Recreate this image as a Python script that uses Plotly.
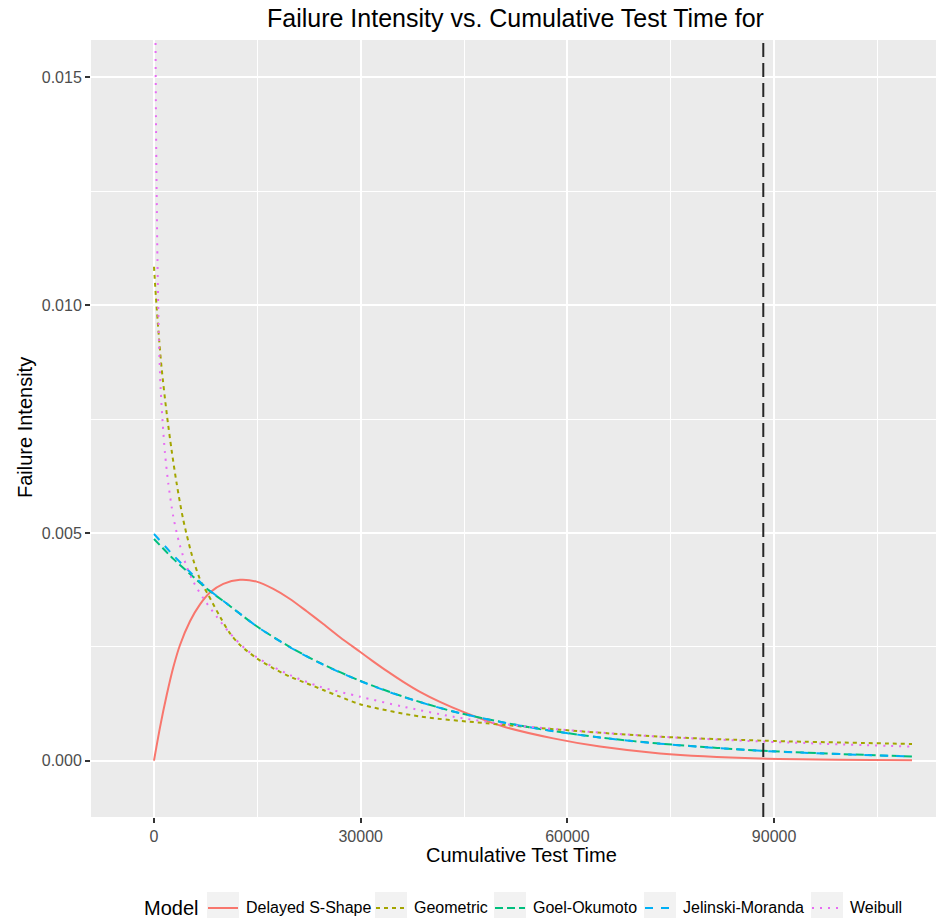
import plotly.graph_objects as go

# ---------------- data ----------------
model_names = ["Delayed S-Shape", "Geometric", "Goel-Okumoto", "Jelinski-Moranda", "Weibull"]

t_delayed = [0, 871, 1843, 2801, 3774, 5225, 6677, 8128, 10058, 12482, 14906, 17315,
             19739, 22162, 24572, 26996, 29899, 31800, 33774, 36184, 38607, 41500, 44891,
             50697, 57954, 64732, 73441, 87955, 110016]
fi_delayed = [0.0, 0.00073, 0.00144, 0.00205, 0.00254, 0.00306, 0.00343, 0.00369,
              0.00388, 0.00397, 0.00393, 0.00377, 0.00355, 0.00328, 0.00300,
              0.00271, 0.00239, 0.00218, 0.00197, 0.00173, 0.00151, 0.00129, 0.00107,
              0.00075, 0.00049, 0.00031, 0.00016, 0.00005, 0.000012]

t_geometric = [0, 290, 726, 1118, 1843, 2569, 3294, 4253, 5704, 6923, 7887, 9579, 11031,
               12482, 14906, 17315, 19739, 22162, 24572, 26996, 29899, 38607, 48288,
               58927, 73441, 88432, 110016]
fi_geometric = [0.010843, 0.010150, 0.009280, 0.008600, 0.007625, 0.006800, 0.006080,
                0.005283, 0.004405, 0.003894, 0.003637, 0.003161, 0.002796, 0.002540,
                0.002248, 0.002028, 0.001844, 0.001698, 0.001551, 0.001405, 0.001240,
                0.000970, 0.000821, 0.000680, 0.000527, 0.000439, 0.000367]

t_goel = [0, 2801, 5225, 7887, 10551, 14906, 19739, 24093, 29899, 36184, 43440, 50697,
          57954, 64732, 73441, 88432, 110016]
fi_goel = [0.004866, 0.004430, 0.004100, 0.003750, 0.003450, 0.002950, 0.002495, 0.002145,
           0.001755, 0.001405, 0.001080, 0.000840, 0.000650, 0.000510, 0.000375, 0.000217,
           0.000092]

t_jelinski = [0, 2801, 5225, 7887, 10551, 14906, 19739, 24093, 29899, 36184, 43440, 50697,
              57954, 64732, 73441, 88432, 110016]
fi_jelinski = [0.004976, 0.004510, 0.004140, 0.003760, 0.003450, 0.002950, 0.002490,
               0.002140, 0.001750, 0.001400, 0.001078, 0.000838, 0.000648, 0.000508,
               0.000372, 0.000215, 0.000090]

t_weibull = [100, 200, 300, 500, 726, 972, 1263, 1597, 2076, 2801, 3672, 4746, 5704, 7155,
             9100, 11031, 13454, 16357, 19739, 24093, 29899, 36184, 43440, 50697, 58927,
             73441, 88432, 110016]
fi_weibull = [0.0226, 0.0166, 0.0138, 0.0110, 0.0092, 0.00814, 0.007406, 0.006747,
              0.006089, 0.005356, 0.004772, 0.004258, 0.003929, 0.003565, 0.003161,
              0.002796, 0.002430, 0.002138, 0.001881, 0.001624, 0.001405, 0.001185,
              0.000966, 0.000805, 0.000685, 0.000527, 0.000420, 0.000307]

cutoff_time = 88432

x_ticks = [0, 30000, 60000, 90000]
x_tick_labels = ["0", "30000", "60000", "90000"]
x_minor = [15000, 45000, 75000, 105000]
y_ticks = [0.0, 0.005, 0.010, 0.015]
y_tick_labels = ["0.000", "0.005", "0.010", "0.015"]
y_minor = [0.0025, 0.0075, 0.0125]

# ---------------- styles ----------------
colors = ["#F8766D", "#A3A500", "#00BF7D", "#00B0F6", "#E76BF3"]
dashes = ["solid", "4px,4px", "8px,4px", "8px,8px", "2px,6px"]
series_t = [t_delayed, t_geometric, t_goel, t_jelinski, t_weibull]
series_v = [fi_delayed, fi_geometric, fi_goel, fi_jelinski, fi_weibull]

W, H = 936, 918
L, R, T, B = 91, 0, 40, 101
PX0, PX1, PY0, PY1 = L, W - R, T, H - B


def pxx(px):
    return (px - PX0) / (PX1 - PX0)


def pxy(py):
    return (PY1 - py) / (PY1 - PY0)


FONT = "Liberation Sans, Arial, sans-serif"

fig = go.Figure()
for name, t, v, c, d in zip(model_names, series_t, series_v, colors, dashes):
    fig.add_trace(go.Scatter(
        x=t, y=v, mode="lines", name=name, showlegend=False,
        line=dict(color=c, width=2, dash=d, shape="spline", smoothing=0.8),
    ))

shapes = [dict(type="line", xref="x", yref="paper", x0=cutoff_time, x1=cutoff_time,
               y0=0, y1=1, line=dict(color="#262626", width=2, dash="14px,6px"),
               layer="above")]

annotations = [
    dict(text="Failure Intensity vs. Cumulative Test Time for", xref="paper", yref="paper",
         x=pxx(515), y=pxy(18), xanchor="center", yanchor="middle", showarrow=False,
         font=dict(size=25, color="black", family=FONT)),
    dict(text="Cumulative Test Time", xref="paper", yref="paper",
         x=pxx(521), y=pxy(855), xanchor="center", yanchor="middle", showarrow=False,
         font=dict(size=20, color="black", family=FONT)),
    dict(text="Failure Intensity", xref="paper", yref="paper", textangle=-90,
         x=pxx(25), y=pxy(428), xanchor="center", yanchor="middle", showarrow=False,
         font=dict(size=20, color="black", family=FONT)),
    dict(text="Model", xref="paper", yref="paper",
         x=pxx(142), y=pxy(908), xanchor="left", yanchor="middle", showarrow=False,
         font=dict(size=20, color="black", family=FONT)),
]

key_left = [207, 375, 494, 644, 811]
key_w = 32
key_cy = 908
for name, c, d, kl in zip(model_names, colors, dashes, key_left):
    shapes.append(dict(type="rect", xref="paper", yref="paper",
                       x0=pxx(kl), x1=pxx(kl + key_w), y0=pxy(key_cy + 16), y1=pxy(key_cy - 16),
                       fillcolor="#F2F2F2", line=dict(width=0), layer="above"))
    shapes.append(dict(type="line", xref="paper", yref="paper",
                       x0=pxx(kl + 1), x1=pxx(kl + key_w - 1), y0=pxy(key_cy), y1=pxy(key_cy),
                       line=dict(color=c, width=2, dash=d), layer="above"))
    annotations.append(dict(text=name, xref="paper", yref="paper",
                            x=pxx(kl + key_w + 5), y=pxy(key_cy), xanchor="left",
                            yanchor="middle", showarrow=False,
                            font=dict(size=16, color="black", family=FONT)))

fig.update_layout(
    width=W, height=H,
    margin=dict(l=L, r=R, t=T, b=B, pad=0),
    plot_bgcolor="#EBEBEB", paper_bgcolor="white",
    font=dict(family=FONT),
    showlegend=False,
    shapes=shapes, annotations=annotations,
    xaxis=dict(range=[-9144, 113500], tickvals=x_ticks, ticktext=x_tick_labels,
               showgrid=True, gridcolor="white", gridwidth=2, zeroline=False, showline=False,
               ticks="outside", ticklen=5, tickwidth=2, tickcolor="#333333",
               tickfont=dict(size=16, color="#4D4D4D", family=FONT),
               minor=dict(tickvals=x_minor, showgrid=True, gridcolor="white", gridwidth=1,
                          ticks="")),
    yaxis=dict(range=[-0.001236, 0.015819], tickvals=y_ticks, ticktext=y_tick_labels,
               showgrid=True, gridcolor="white", gridwidth=2, zeroline=False, showline=False,
               ticks="outside", ticklen=5, tickwidth=2, tickcolor="#333333",
               tickfont=dict(size=16, color="#4D4D4D", family=FONT),
               minor=dict(tickvals=y_minor, showgrid=True, gridcolor="white", gridwidth=1,
                          ticks="")),
)

fig.write_html("out.html")
